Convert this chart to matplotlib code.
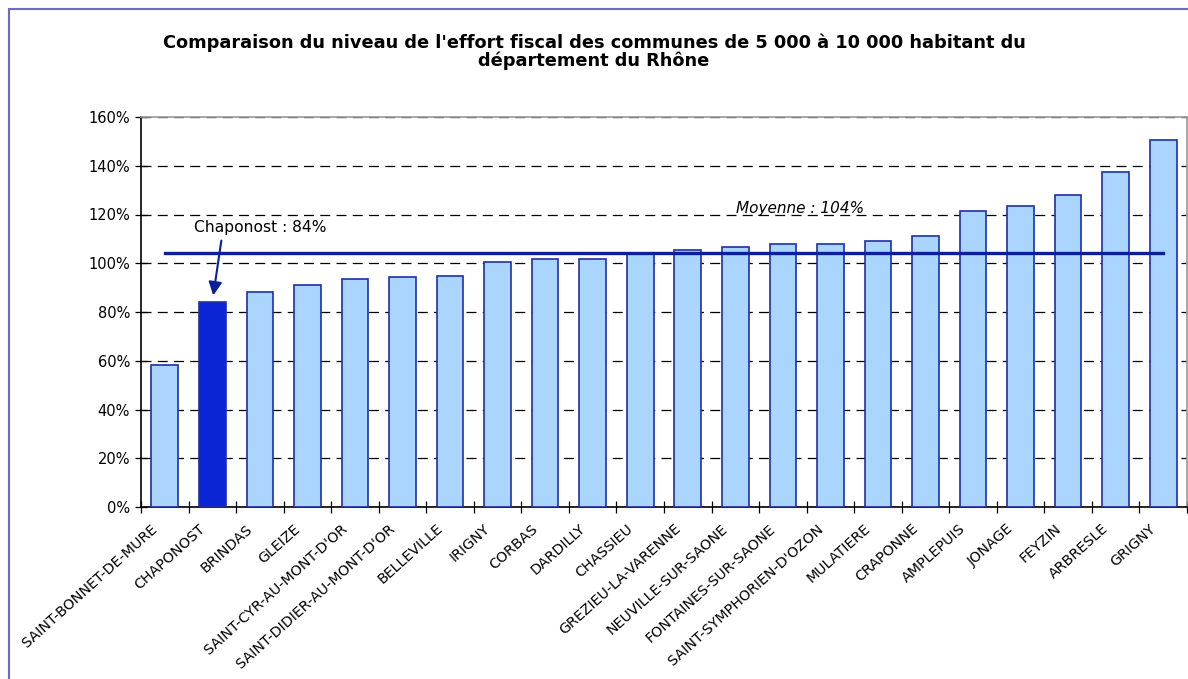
import matplotlib.pyplot as plt
from matplotlib.patches import Rectangle
from matplotlib.ticker import FuncFormatter, MultipleLocator, FixedLocator
from matplotlib.transforms import ScaledTranslation
import numpy as np

# communes de 5 000 a 10 000 habitants, effort fiscal (%)
communes = ['SAINT-BONNET-DE-MURE', 'CHAPONOST', 'BRINDAS', 'GLEIZE',
            "SAINT-CYR-AU-MONT-D'OR", "SAINT-DIDIER-AU-MONT-D'OR", 'BELLEVILLE',
            'IRIGNY', 'CORBAS', 'DARDILLY', 'CHASSIEU', 'GREZIEU-LA-VARENNE',
            'NEUVILLE-SUR-SAONE', 'FONTAINES-SUR-SAONE', "SAINT-SYMPHORIEN-D'OZON",
            'MULATIERE', 'CRAPONNE', 'AMPLEPUIS', 'JONAGE', 'FEYZIN', 'ARBRESLE',
            'GRIGNY']
effort = [58.1, 84.1, 88.3, 90.9, 93.5, 94.2, 94.9, 100.4, 101.7, 101.9, 104.4,
          105.6, 106.6, 107.7, 108.1, 109.3, 111.0, 121.4, 123.3, 128.2, 137.4,
          150.5]
moyenne = 104.3
highlight = 'CHAPONOST'

light = '#a9d5ff'
dark = '#0a24d6'
edge = '#1f2fa8'
line_col = '#0b1f99'

fig = plt.figure(figsize=(11.88, 6.79), dpi=100)
ax = fig.add_axes([141 / 1188, 1 - 507 / 679, (1187 - 141) / 1188, 390 / 679])

x = np.arange(len(communes))
colors = [dark if c == highlight else light for c in communes]
ax.bar(x, effort, width=0.56, color=colors, edgecolor=edge, linewidth=1.2, zorder=3)

# ligne de moyenne
ax.plot([x[0], x[-1]], [moyenne, moyenne], color=line_col, lw=2.4, zorder=4)
ax.text(12.02, 122.6, 'Moyenne : 104%', fontsize=11, style='italic',
        va='center', ha='left', zorder=5)

# annotation Chaponost
i = communes.index(highlight)
ax.text(0.62, 114.5, 'Chaponost : 84%', fontsize=11.2, va='center', ha='left', zorder=5)
ax.annotate('', xy=(i + 0.02, 86.8), xytext=(i + 0.19, 109.3),
            arrowprops=dict(arrowstyle='-|>', color=line_col, lw=1.5,
                            mutation_scale=20, shrinkA=0, shrinkB=0),
            zorder=5)

ax.set_xlim(-0.5, len(communes) - 0.5)
ax.set_ylim(0, 160)
ax.yaxis.set_major_locator(MultipleLocator(20))
ax.yaxis.set_major_formatter(FuncFormatter(lambda v, p: f'{v:.0f}%'))
ax.grid(axis='y', color='black', linestyle=(0, (8, 5)), linewidth=0.9, zorder=1)

ax.set_xticks(x)
ax.set_xticklabels(communes, rotation=42, ha='right', rotation_mode='anchor',
                   fontsize=10.3)
ax.tick_params(axis='x', which='major', length=0, pad=10.5)
shift = ScaledTranslation(-14 / 100, 0, fig.dpi_scale_trans)
for lab in ax.get_xticklabels():
    lab.set_transform(lab.get_transform() + shift)
ax.xaxis.set_minor_locator(FixedLocator(np.arange(-0.5, len(communes), 1)))
ax.tick_params(axis='x', which='minor', direction='inout', length=8, width=0.9)
ax.tick_params(axis='y', direction='inout', length=8, width=0.9, labelsize=10.5, pad=4)

for s in ['left', 'bottom']:
    ax.spines[s].set_color('black')
    ax.spines[s].set_linewidth(1.2)
for s in ['top', 'right']:
    ax.spines[s].set_color('#999999')
    ax.spines[s].set_linewidth(1.2)

fig.text(594 / 1188, 1 - 52 / 679,
         "Comparaison du niveau de l'effort fiscal des communes de 5 000 à 10 000 habitant du\n"
         "département du Rhône",
         ha='center', va='center', fontsize=12.8, fontweight='bold', linespacing=0.95)

# cadre du graphique
fig.patches.append(Rectangle((9 / 1188, -0.1), 1.2, 1.1 - 9 / 679,
                             transform=fig.transFigure, fill=False,
                             edgecolor='#6b6bc4', linewidth=1.5))

fig.savefig('out.png', dpi=100)
